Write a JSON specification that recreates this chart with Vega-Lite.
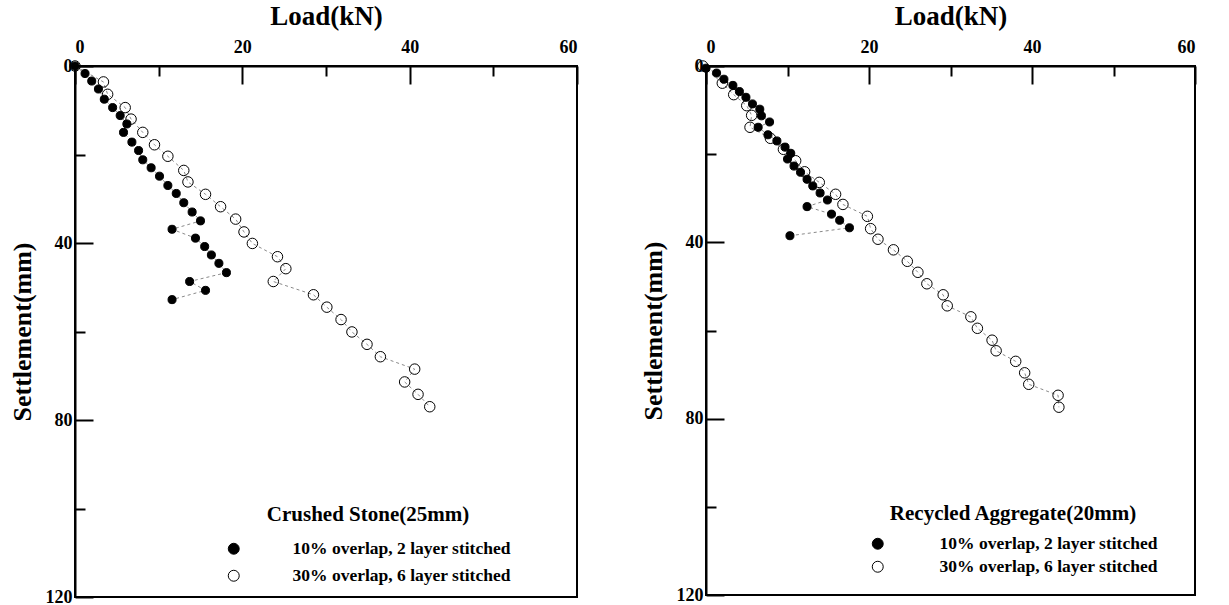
{
  "$schema": "https://vega.github.io/schema/vega-lite/v6.json",
  "padding": {"left": 8, "top": 1, "right": 5, "bottom": 0},
  "config": {
    "font": "Liberation Serif",
    "view": {"stroke": "black", "strokeWidth": 2},
    "axis": {
      "domainColor": "black", "domainWidth": 2, "tickColor": "black", "tickWidth": 2,
      "labelFont": "Liberation Serif", "labelFontWeight": "bold", "labelFontSize": 18, "labelColor": "black",
      "titleFont": "Liberation Serif", "titleFontWeight": "bold", "titleColor": "black", "grid": false
    },
    "legend": {
      "titleFont": "Liberation Serif", "titleFontWeight": "bold", "titleFontSize": 21, "titleColor": "black",
      "labelFont": "Liberation Serif", "labelFontWeight": "bold", "labelFontSize": 17.5, "labelColor": "black",
      "labelLimit": 400, "titleLimit": 400, "symbolStrokeColor": "black", "symbolStrokeWidth": 1,
      "symbolSize": 120, "titleAnchor": "middle"
    }
  },
  "datasets": {
    "pts": [
      {"material": "Crushed Stone", "series": "10% overlap, 2 layer stitched", "load": 0, "settlement": 0},
      {"material": "Crushed Stone", "series": "10% overlap, 2 layer stitched", "load": 1.2, "settlement": 1.7},
      {"material": "Crushed Stone", "series": "10% overlap, 2 layer stitched", "load": 2.0, "settlement": 3.4},
      {"material": "Crushed Stone", "series": "10% overlap, 2 layer stitched", "load": 2.8, "settlement": 5.2},
      {"material": "Crushed Stone", "series": "10% overlap, 2 layer stitched", "load": 3.5, "settlement": 7.5},
      {"material": "Crushed Stone", "series": "10% overlap, 2 layer stitched", "load": 4.5, "settlement": 9.4},
      {"material": "Crushed Stone", "series": "10% overlap, 2 layer stitched", "load": 5.4, "settlement": 11.2},
      {"material": "Crushed Stone", "series": "10% overlap, 2 layer stitched", "load": 6.2, "settlement": 13.1},
      {"material": "Crushed Stone", "series": "10% overlap, 2 layer stitched", "load": 5.8, "settlement": 15.0},
      {"material": "Crushed Stone", "series": "10% overlap, 2 layer stitched", "load": 6.8, "settlement": 17.2},
      {"material": "Crushed Stone", "series": "10% overlap, 2 layer stitched", "load": 7.6, "settlement": 19.1},
      {"material": "Crushed Stone", "series": "10% overlap, 2 layer stitched", "load": 8.1, "settlement": 21.2},
      {"material": "Crushed Stone", "series": "10% overlap, 2 layer stitched", "load": 9.1, "settlement": 23.0},
      {"material": "Crushed Stone", "series": "10% overlap, 2 layer stitched", "load": 10.1, "settlement": 24.9},
      {"material": "Crushed Stone", "series": "10% overlap, 2 layer stitched", "load": 11.1, "settlement": 27.0},
      {"material": "Crushed Stone", "series": "10% overlap, 2 layer stitched", "load": 12.1, "settlement": 28.8},
      {"material": "Crushed Stone", "series": "10% overlap, 2 layer stitched", "load": 13.0, "settlement": 30.9},
      {"material": "Crushed Stone", "series": "10% overlap, 2 layer stitched", "load": 14.0, "settlement": 33.0},
      {"material": "Crushed Stone", "series": "10% overlap, 2 layer stitched", "load": 15.0, "settlement": 35.0},
      {"material": "Crushed Stone", "series": "10% overlap, 2 layer stitched", "load": 11.6, "settlement": 36.9},
      {"material": "Crushed Stone", "series": "10% overlap, 2 layer stitched", "load": 14.4, "settlement": 38.9},
      {"material": "Crushed Stone", "series": "10% overlap, 2 layer stitched", "load": 15.5, "settlement": 40.8},
      {"material": "Crushed Stone", "series": "10% overlap, 2 layer stitched", "load": 16.3, "settlement": 42.7},
      {"material": "Crushed Stone", "series": "10% overlap, 2 layer stitched", "load": 17.2, "settlement": 44.6},
      {"material": "Crushed Stone", "series": "10% overlap, 2 layer stitched", "load": 18.1, "settlement": 46.7},
      {"material": "Crushed Stone", "series": "10% overlap, 2 layer stitched", "load": 13.7, "settlement": 48.7},
      {"material": "Crushed Stone", "series": "10% overlap, 2 layer stitched", "load": 15.6, "settlement": 50.7},
      {"material": "Crushed Stone", "series": "10% overlap, 2 layer stitched", "load": 11.6, "settlement": 52.8},
      {"material": "Crushed Stone", "series": "30% overlap, 6 layer stitched", "load": 0, "settlement": 0},
      {"material": "Crushed Stone", "series": "30% overlap, 6 layer stitched", "load": 3.4, "settlement": 3.6},
      {"material": "Crushed Stone", "series": "30% overlap, 6 layer stitched", "load": 3.9, "settlement": 6.4},
      {"material": "Crushed Stone", "series": "30% overlap, 6 layer stitched", "load": 6.0, "settlement": 9.4},
      {"material": "Crushed Stone", "series": "30% overlap, 6 layer stitched", "load": 6.7, "settlement": 12.0},
      {"material": "Crushed Stone", "series": "30% overlap, 6 layer stitched", "load": 8.1, "settlement": 15.0},
      {"material": "Crushed Stone", "series": "30% overlap, 6 layer stitched", "load": 9.5, "settlement": 17.8},
      {"material": "Crushed Stone", "series": "30% overlap, 6 layer stitched", "load": 11.1, "settlement": 20.4},
      {"material": "Crushed Stone", "series": "30% overlap, 6 layer stitched", "load": 13.0, "settlement": 23.6},
      {"material": "Crushed Stone", "series": "30% overlap, 6 layer stitched", "load": 13.5, "settlement": 26.2},
      {"material": "Crushed Stone", "series": "30% overlap, 6 layer stitched", "load": 15.6, "settlement": 29.0},
      {"material": "Crushed Stone", "series": "30% overlap, 6 layer stitched", "load": 17.4, "settlement": 31.8},
      {"material": "Crushed Stone", "series": "30% overlap, 6 layer stitched", "load": 19.2, "settlement": 34.6},
      {"material": "Crushed Stone", "series": "30% overlap, 6 layer stitched", "load": 20.2, "settlement": 37.5},
      {"material": "Crushed Stone", "series": "30% overlap, 6 layer stitched", "load": 21.2, "settlement": 40.1},
      {"material": "Crushed Stone", "series": "30% overlap, 6 layer stitched", "load": 24.2, "settlement": 43.1},
      {"material": "Crushed Stone", "series": "30% overlap, 6 layer stitched", "load": 25.2, "settlement": 45.8},
      {"material": "Crushed Stone", "series": "30% overlap, 6 layer stitched", "load": 23.7, "settlement": 48.7},
      {"material": "Crushed Stone", "series": "30% overlap, 6 layer stitched", "load": 28.5, "settlement": 51.7},
      {"material": "Crushed Stone", "series": "30% overlap, 6 layer stitched", "load": 30.1, "settlement": 54.5},
      {"material": "Crushed Stone", "series": "30% overlap, 6 layer stitched", "load": 31.8, "settlement": 57.3},
      {"material": "Crushed Stone", "series": "30% overlap, 6 layer stitched", "load": 33.1, "settlement": 60.1},
      {"material": "Crushed Stone", "series": "30% overlap, 6 layer stitched", "load": 34.9, "settlement": 62.9},
      {"material": "Crushed Stone", "series": "30% overlap, 6 layer stitched", "load": 36.5, "settlement": 65.7},
      {"material": "Crushed Stone", "series": "30% overlap, 6 layer stitched", "load": 40.6, "settlement": 68.5},
      {"material": "Crushed Stone", "series": "30% overlap, 6 layer stitched", "load": 39.4, "settlement": 71.4},
      {"material": "Crushed Stone", "series": "30% overlap, 6 layer stitched", "load": 41.0, "settlement": 74.2},
      {"material": "Crushed Stone", "series": "30% overlap, 6 layer stitched", "load": 42.4, "settlement": 77.0},
      {"material": "Recycled Aggregate", "series": "10% overlap, 2 layer stitched", "load": 0, "settlement": 0.5},
      {"material": "Recycled Aggregate", "series": "10% overlap, 2 layer stitched", "load": 1.3, "settlement": 1.6},
      {"material": "Recycled Aggregate", "series": "10% overlap, 2 layer stitched", "load": 2.2, "settlement": 3.0},
      {"material": "Recycled Aggregate", "series": "10% overlap, 2 layer stitched", "load": 3.3, "settlement": 4.4},
      {"material": "Recycled Aggregate", "series": "10% overlap, 2 layer stitched", "load": 4.1, "settlement": 5.8},
      {"material": "Recycled Aggregate", "series": "10% overlap, 2 layer stitched", "load": 4.9, "settlement": 7.1},
      {"material": "Recycled Aggregate", "series": "10% overlap, 2 layer stitched", "load": 5.7, "settlement": 8.6},
      {"material": "Recycled Aggregate", "series": "10% overlap, 2 layer stitched", "load": 6.6, "settlement": 9.8},
      {"material": "Recycled Aggregate", "series": "10% overlap, 2 layer stitched", "load": 6.8, "settlement": 11.3},
      {"material": "Recycled Aggregate", "series": "10% overlap, 2 layer stitched", "load": 7.8, "settlement": 12.7},
      {"material": "Recycled Aggregate", "series": "10% overlap, 2 layer stitched", "load": 6.4, "settlement": 13.9},
      {"material": "Recycled Aggregate", "series": "10% overlap, 2 layer stitched", "load": 7.6, "settlement": 15.6},
      {"material": "Recycled Aggregate", "series": "10% overlap, 2 layer stitched", "load": 8.7, "settlement": 17.0},
      {"material": "Recycled Aggregate", "series": "10% overlap, 2 layer stitched", "load": 9.7, "settlement": 18.4},
      {"material": "Recycled Aggregate", "series": "10% overlap, 2 layer stitched", "load": 10.4, "settlement": 19.8},
      {"material": "Recycled Aggregate", "series": "10% overlap, 2 layer stitched", "load": 10.0, "settlement": 21.1},
      {"material": "Recycled Aggregate", "series": "10% overlap, 2 layer stitched", "load": 10.8, "settlement": 22.7},
      {"material": "Recycled Aggregate", "series": "10% overlap, 2 layer stitched", "load": 11.6, "settlement": 24.1},
      {"material": "Recycled Aggregate", "series": "10% overlap, 2 layer stitched", "load": 12.4, "settlement": 25.7},
      {"material": "Recycled Aggregate", "series": "10% overlap, 2 layer stitched", "load": 13.1, "settlement": 27.2},
      {"material": "Recycled Aggregate", "series": "10% overlap, 2 layer stitched", "load": 14.0, "settlement": 28.8},
      {"material": "Recycled Aggregate", "series": "10% overlap, 2 layer stitched", "load": 14.9, "settlement": 30.4},
      {"material": "Recycled Aggregate", "series": "10% overlap, 2 layer stitched", "load": 12.4, "settlement": 31.9},
      {"material": "Recycled Aggregate", "series": "10% overlap, 2 layer stitched", "load": 15.4, "settlement": 33.6},
      {"material": "Recycled Aggregate", "series": "10% overlap, 2 layer stitched", "load": 16.4, "settlement": 35.0},
      {"material": "Recycled Aggregate", "series": "10% overlap, 2 layer stitched", "load": 17.6, "settlement": 36.7},
      {"material": "Recycled Aggregate", "series": "10% overlap, 2 layer stitched", "load": 10.3, "settlement": 38.5},
      {"material": "Recycled Aggregate", "series": "30% overlap, 6 layer stitched", "load": -0.4, "settlement": 0},
      {"material": "Recycled Aggregate", "series": "30% overlap, 6 layer stitched", "load": 2.0, "settlement": 3.9},
      {"material": "Recycled Aggregate", "series": "30% overlap, 6 layer stitched", "load": 3.4, "settlement": 6.5},
      {"material": "Recycled Aggregate", "series": "30% overlap, 6 layer stitched", "load": 5.0, "settlement": 9.0},
      {"material": "Recycled Aggregate", "series": "30% overlap, 6 layer stitched", "load": 5.6, "settlement": 11.2},
      {"material": "Recycled Aggregate", "series": "30% overlap, 6 layer stitched", "load": 5.4, "settlement": 13.9},
      {"material": "Recycled Aggregate", "series": "30% overlap, 6 layer stitched", "load": 7.9, "settlement": 16.4},
      {"material": "Recycled Aggregate", "series": "30% overlap, 6 layer stitched", "load": 9.5, "settlement": 18.9},
      {"material": "Recycled Aggregate", "series": "30% overlap, 6 layer stitched", "load": 11.0, "settlement": 21.5},
      {"material": "Recycled Aggregate", "series": "30% overlap, 6 layer stitched", "load": 12.1, "settlement": 24.0},
      {"material": "Recycled Aggregate", "series": "30% overlap, 6 layer stitched", "load": 13.9, "settlement": 26.4},
      {"material": "Recycled Aggregate", "series": "30% overlap, 6 layer stitched", "load": 15.9, "settlement": 29.1},
      {"material": "Recycled Aggregate", "series": "30% overlap, 6 layer stitched", "load": 16.8, "settlement": 31.4},
      {"material": "Recycled Aggregate", "series": "30% overlap, 6 layer stitched", "load": 19.8, "settlement": 34.1},
      {"material": "Recycled Aggregate", "series": "30% overlap, 6 layer stitched", "load": 20.2, "settlement": 36.9},
      {"material": "Recycled Aggregate", "series": "30% overlap, 6 layer stitched", "load": 21.1, "settlement": 39.3},
      {"material": "Recycled Aggregate", "series": "30% overlap, 6 layer stitched", "load": 23.0, "settlement": 41.7},
      {"material": "Recycled Aggregate", "series": "30% overlap, 6 layer stitched", "load": 24.7, "settlement": 44.3},
      {"material": "Recycled Aggregate", "series": "30% overlap, 6 layer stitched", "load": 26.0, "settlement": 46.8},
      {"material": "Recycled Aggregate", "series": "30% overlap, 6 layer stitched", "load": 27.1, "settlement": 49.4},
      {"material": "Recycled Aggregate", "series": "30% overlap, 6 layer stitched", "load": 29.1, "settlement": 51.9},
      {"material": "Recycled Aggregate", "series": "30% overlap, 6 layer stitched", "load": 29.6, "settlement": 54.4},
      {"material": "Recycled Aggregate", "series": "30% overlap, 6 layer stitched", "load": 32.5, "settlement": 56.9},
      {"material": "Recycled Aggregate", "series": "30% overlap, 6 layer stitched", "load": 33.3, "settlement": 59.5},
      {"material": "Recycled Aggregate", "series": "30% overlap, 6 layer stitched", "load": 35.1, "settlement": 62.2},
      {"material": "Recycled Aggregate", "series": "30% overlap, 6 layer stitched", "load": 35.6, "settlement": 64.6},
      {"material": "Recycled Aggregate", "series": "30% overlap, 6 layer stitched", "load": 38.0, "settlement": 67.0},
      {"material": "Recycled Aggregate", "series": "30% overlap, 6 layer stitched", "load": 39.1, "settlement": 69.6},
      {"material": "Recycled Aggregate", "series": "30% overlap, 6 layer stitched", "load": 39.6, "settlement": 72.2},
      {"material": "Recycled Aggregate", "series": "30% overlap, 6 layer stitched", "load": 43.2, "settlement": 74.7},
      {"material": "Recycled Aggregate", "series": "30% overlap, 6 layer stitched", "load": 43.3, "settlement": 77.4}
    ]
  },
  "hconcat": [
    {
      "width": 502, "height": 531,
      "data": {"name": "pts"},
      "transform": [{"filter": "datum.material === 'Crushed Stone'"}],
      "encoding": {
        "x": {"field": "load", "type": "quantitative", "scale": {"domain": [0, 60], "nice": false},
          "axis": {"orient": "top", "title": "Load(kN)", "titleFontSize": 27, "titlePadding": 8,
            "values": [0, 10, 20, 30, 40, 50, 60], "labelExpr": "datum.value % 20 === 0 ? datum.label : ''",
            "tickSize": {"condition": {"test": "datum.value % 20 === 0", "value": -18}, "value": -10},
            "labelPadding": 28, "labelFontSize": 18}},
        "y": {"field": "settlement", "type": "quantitative", "scale": {"domain": [0, 120], "reverse": true, "nice": false},
          "axis": {"title": "Settlement(mm)", "titleFontSize": 26, "titlePadding": 10,
            "values": [0, 20, 40, 60, 80, 100, 120], "labelExpr": "datum.value % 40 === 0 ? datum.label : ''",
            "tickSize": {"condition": {"test": "datum.value % 40 === 0", "value": -18}, "value": -10},
            "labelPadding": 21, "labelFontSize": 18}}
      },
      "layer": [
        {"mark": {"type": "line", "color": "#8a8a8a", "strokeWidth": 1, "strokeDash": [3, 3]},
          "encoding": {"detail": {"field": "series"}, "order": {"field": "settlement", "type": "quantitative"}}},
        {"mark": {"type": "point", "shape": "circle", "filled": true, "stroke": "black", "strokeWidth": 1, "opacity": 1},
          "encoding": {
            "fill": {"field": "series", "type": "nominal",
              "scale": {"domain": ["10% overlap, 2 layer stitched", "30% overlap, 6 layer stitched"], "range": ["black", "rgba(255,255,255,0)"]},
              "legend": {"title": "Crushed Stone(25mm)", "orient": "none", "legendX": 150, "legendY": 438, "titlePadding": 15, "rowPadding": 8, "labelOffset": 50}},
            "size": {"condition": {"test": "datum.series === '10% overlap, 2 layer stitched'", "value": 65}, "value": 110}
          }}
      ]
    },
    {
      "width": 489, "height": 529,
      "data": {"name": "pts"},
      "transform": [{"filter": "datum.material === 'Recycled Aggregate'"}],
      "encoding": {
        "x": {"field": "load", "type": "quantitative", "scale": {"domain": [0, 60], "nice": false},
          "axis": {"orient": "top", "title": "Load(kN)", "titleFontSize": 27, "titlePadding": 8,
            "values": [0, 10, 20, 30, 40, 50, 60], "labelExpr": "datum.value % 20 === 0 ? datum.label : ''",
            "tickSize": {"condition": {"test": "datum.value % 20 === 0", "value": -18}, "value": -10},
            "labelPadding": 28, "labelFontSize": 18}},
        "y": {"field": "settlement", "type": "quantitative", "scale": {"domain": [0, 120], "reverse": true, "nice": false},
          "axis": {"title": "Settlement(mm)", "titleFontSize": 26, "titlePadding": 10,
            "values": [0, 20, 40, 60, 80, 100, 120], "labelExpr": "datum.value % 40 === 0 ? datum.label : ''",
            "tickSize": {"condition": {"test": "datum.value % 40 === 0", "value": -18}, "value": -10},
            "labelPadding": 21, "labelFontSize": 18}}
      },
      "layer": [
        {"mark": {"type": "line", "color": "#8a8a8a", "strokeWidth": 1, "strokeDash": [3, 3]},
          "encoding": {"detail": {"field": "series"}, "order": {"field": "settlement", "type": "quantitative"}}},
        {"mark": {"type": "point", "shape": "circle", "filled": true, "stroke": "black", "strokeWidth": 1, "opacity": 1},
          "encoding": {
            "fill": {"field": "series", "type": "nominal",
              "scale": {"domain": ["10% overlap, 2 layer stitched", "30% overlap, 6 layer stitched"], "range": ["black", "rgba(255,255,255,0)"]},
              "legend": {"title": "Recycled Aggregate(20mm)", "orient": "none", "legendX": 163, "legendY": 437, "titlePadding": 11, "rowPadding": 4, "labelOffset": 53}},
            "size": {"condition": {"test": "datum.series === '10% overlap, 2 layer stitched'", "value": 65}, "value": 110}
          }}
      ]
    }
  ],
  "resolve": {"scale": {"fill": "independent"}, "legend": {"fill": "independent"}},
  "spacing": 60
}
